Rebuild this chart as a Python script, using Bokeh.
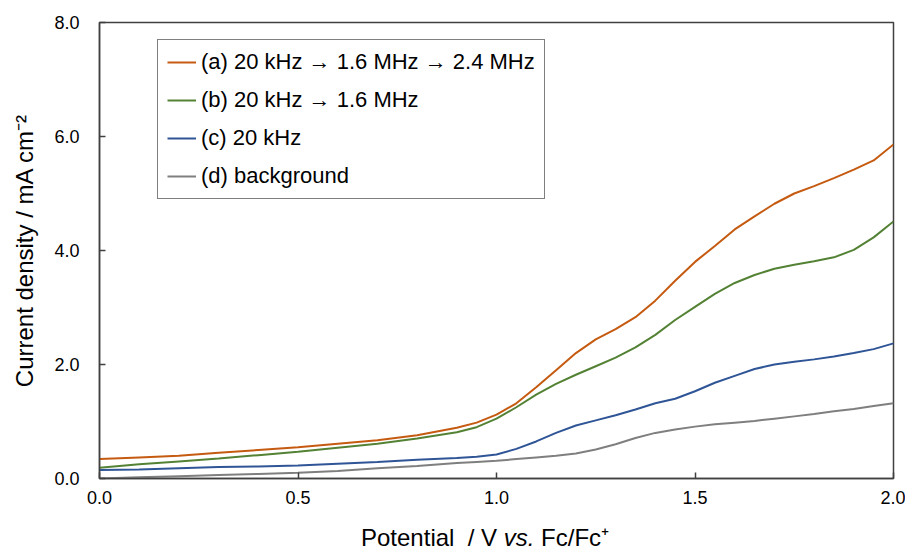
from bokeh.plotting import figure
from bokeh.models import FixedTicker, NumeralTickFormatter, Legend, LegendItem, Div
from bokeh.layouts import column
from bokeh.embed import file_html
from bokeh.resources import INLINE

# ---- data ----
potential = [0.0, 0.1, 0.2, 0.3, 0.4, 0.5, 0.6, 0.7, 0.8, 0.9, 0.95, 1.0, 1.05, 1.1, 1.15, 1.2,
             1.25, 1.3, 1.35, 1.4, 1.45, 1.5, 1.55, 1.6, 1.65, 1.7, 1.75, 1.8, 1.85, 1.9, 1.95, 2.0]
curve_a = [0.34, 0.37, 0.40, 0.45, 0.50, 0.55, 0.61, 0.67, 0.76, 0.89, 0.98, 1.12, 1.32, 1.60, 1.90, 2.20,
           2.44, 2.62, 2.83, 3.12, 3.47, 3.80, 4.08, 4.37, 4.60, 4.82, 5.00, 5.13, 5.27, 5.42, 5.58, 5.86]
curve_b = [0.19, 0.25, 0.30, 0.35, 0.41, 0.47, 0.54, 0.61, 0.70, 0.81, 0.90, 1.05, 1.25, 1.47, 1.66, 1.82,
           1.97, 2.12, 2.30, 2.52, 2.78, 3.01, 3.24, 3.43, 3.57, 3.68, 3.75, 3.81, 3.88, 4.01, 4.23, 4.51]
curve_c = [0.15, 0.16, 0.18, 0.20, 0.21, 0.23, 0.26, 0.29, 0.33, 0.36, 0.38, 0.42, 0.52, 0.65, 0.80, 0.93,
           1.02, 1.11, 1.21, 1.32, 1.40, 1.53, 1.68, 1.80, 1.92, 2.00, 2.05, 2.09, 2.14, 2.20, 2.27, 2.37]
curve_d = [0.00, 0.02, 0.04, 0.06, 0.08, 0.10, 0.13, 0.18, 0.22, 0.27, 0.29, 0.31, 0.34, 0.37, 0.40, 0.44,
           0.51, 0.60, 0.71, 0.80, 0.86, 0.91, 0.95, 0.98, 1.01, 1.05, 1.09, 1.13, 1.18, 1.22, 1.27, 1.32]
series_labels = ["(a) 20 kHz \u2192 1.6 MHz \u2192 2.4 MHz", "(b) 20 kHz \u2192 1.6 MHz",
                 "(c) 20 kHz", "(d) background"]
x_ticks = [0.0, 0.5, 1.0, 1.5, 2.0]
y_ticks = [0.0, 2.0, 4.0, 6.0, 8.0]

colors = ["#C55A11", "#548235", "#2F5597", "#7F7F7F"]
FONT = "Liberation Sans"
AXC = "#404040"

p = figure(width=905, height=512, x_range=(0, 2), y_range=(0, 8),
           output_backend="svg", toolbar_location=None,
           min_border_left=99, min_border_right=12, min_border_top=22, min_border_bottom=34)
p.background_fill_color = "white"
p.border_fill_color = "white"
p.grid.visible = False
p.outline_line_color = AXC
p.outline_line_width = 1.5

renderers = []
for ys, c in zip([curve_a, curve_b, curve_c, curve_d], colors):
    r = p.line(potential, ys, line_color=c, line_width=2)
    renderers.append(r)

for ax in (p.xaxis[0], p.yaxis[0]):
    ax.axis_line_color = AXC
    ax.axis_line_width = 1.5
    ax.major_tick_line_color = AXC
    ax.major_tick_line_width = 1.5
    ax.major_tick_in = 6
    ax.major_tick_out = 0
    ax.minor_tick_line_color = None
    ax.major_label_text_font = FONT
    ax.major_label_text_font_size = "18px"
    ax.major_label_text_color = "black"
    ax.formatter = NumeralTickFormatter(format="0.0")

p.xaxis[0].ticker = FixedTicker(ticks=x_ticks)
p.yaxis[0].ticker = FixedTicker(ticks=y_ticks)
p.xaxis[0].major_label_standoff = 12
p.yaxis[0].major_label_standoff = 20

p.yaxis[0].axis_label = "Current density / mA cm\u207b\u00b2"
p.yaxis[0].axis_label_text_font = FONT
p.yaxis[0].axis_label_text_font_size = "24px"
p.yaxis[0].axis_label_text_font_style = "normal"
p.yaxis[0].axis_label_text_color = "black"
p.yaxis[0].axis_label_standoff = 13

legend = Legend(items=[LegendItem(label=l, renderers=[r]) for l, r in zip(series_labels, renderers)],
                location=(58, 279))
legend.label_text_font = FONT
legend.label_text_font_size = "22px"
legend.label_text_color = "black"
legend.label_height = 22
legend.glyph_height = 22
legend.glyph_width = 29
legend.label_standoff = 5
legend.spacing = 12
legend.padding = 9
legend.margin = 0
legend.border_line_color = "black"
legend.border_line_width = 1
legend.background_fill_color = "white"
legend.background_fill_alpha = 1.0
p.add_layout(legend, "center")

xlabel = Div(
    text=('<div style="font-family:\'Liberation Sans\';font-size:24px;color:black;'
          'padding-left:361px;padding-top:13px;line-height:26px;white-space:nowrap;">'
          'Potential&nbsp; / V <i>vs.</i> Fc/Fc\u207a</div>'),
    width=905, height=40, margin=(0, 0, 0, 0))

layout = column(p, xlabel, spacing=0, margin=0)
open("out.html", "w").write(file_html(layout, INLINE))
